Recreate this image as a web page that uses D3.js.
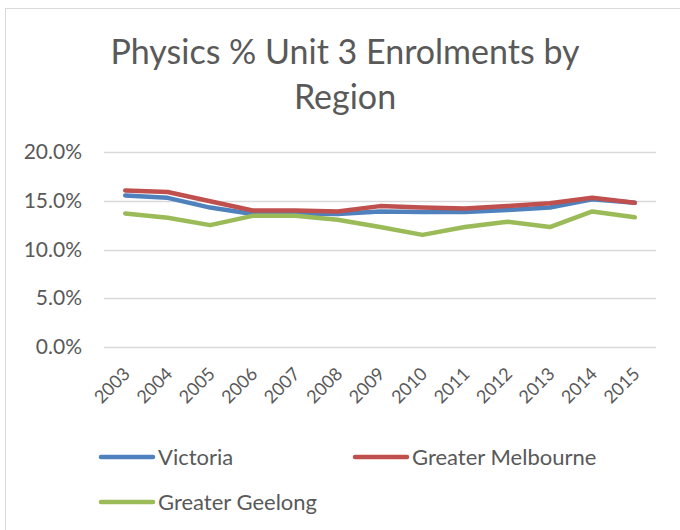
<!DOCTYPE html>
<html>
<head>
<meta charset="utf-8">
<script src="https://cdn.jsdelivr.net/npm/d3@7"></script>
<style>
  body { margin: 0; background: #fff; }
  text { font-family: Lato, "Open Sans", sans-serif; fill: #595959; }
</style>
</head>
<body>
<div id="chart"></div>
<script>
// data
var years = ['2003', '2004', '2005', '2006', '2007', '2008', '2009', '2010', '2011', '2012', '2013', '2014', '2015'];
var victoria = [15.55, 15.3, 14.3, 13.65, 13.7, 13.65, 13.9, 13.85, 13.85, 14.05, 14.3, 15.15, 14.8];
var melbourne = [16.05, 15.9, 14.95, 14.0, 14.0, 13.9, 14.45, 14.3, 14.2, 14.45, 14.75, 15.3, 14.8];
var geelong = [13.7, 13.25, 12.5, 13.45, 13.45, 13.05, 12.3, 11.5, 12.3, 12.85, 12.3, 13.9, 13.3];
var yTicks = [0, 5, 10, 15, 20];
var seriesNames = ['Victoria', 'Greater Melbourne', 'Greater Geelong'];
var seriesColors = ['#4f81bd', '#c0504d', '#9bbb59'];

var svgWidth = 680;
var svgHeight = 530;
var margin = { top: 152, right: 24, bottom: 183, left: 104 };
var chartWidth = svgWidth - margin.left - margin.right;
var chartHeight = svgHeight - margin.top - margin.bottom;

var svg = d3.select('#chart')
    .append('svg')
    .attr('width', svgWidth)
    .attr('height', svgHeight);

// outer chart border (Excel chart area)
svg.append('rect')
    .attr('x', 5.5)
    .attr('y', 8.5)
    .attr('width', 700)
    .attr('height', 560)
    .attr('fill', 'none')
    .attr('stroke', '#d9d9d9')
    .attr('stroke-width', 1);

// title
var title = svg.append('text')
    .attr('text-anchor', 'middle')
    .style('font-size', '34px');
title.append('tspan').attr('x', 345).attr('y', 64).text('Physics % Unit 3 Enrolments by');
title.append('tspan').attr('x', 345).attr('y', 109).text('Region');

var chartGroup = svg.append('g')
    .attr('transform', 'translate(' + margin.left + ',' + margin.top + ')');

var xScale = d3.scaleBand().domain(years).range([0, chartWidth]);
var yScale = d3.scaleLinear().domain([0, 20]).range([chartHeight, 0]);

// gridlines
chartGroup.selectAll('.grid')
    .data(yTicks)
    .enter()
    .append('line')
    .attr('x1', 0)
    .attr('x2', chartWidth)
    .attr('y1', function (d) { return Math.round(yScale(d)) + 0.5; })
    .attr('y2', function (d) { return Math.round(yScale(d)) + 0.5; })
    .attr('stroke', '#d9d9d9')
    .attr('stroke-width', 1.3);

// y axis labels
var leftAxis = d3.axisLeft(yScale)
    .tickValues(yTicks)
    .tickSize(0)
    .tickPadding(22)
    .tickFormat(function (d) { return d.toFixed(1) + '%'; });
var yAxisG = chartGroup.append('g').call(leftAxis);
yAxisG.select('.domain').remove();
yAxisG.selectAll('text')
    .style('font-size', '21px')
    .style('font-family', 'Lato, sans-serif')
    .attr('fill', '#595959');

// x axis labels, rotated
var bottomAxis = d3.axisBottom(xScale).tickSize(0).tickPadding(0);
var xAxisG = chartGroup.append('g')
    .attr('transform', 'translate(0,' + chartHeight + ')')
    .call(bottomAxis);
xAxisG.select('.domain').remove();
xAxisG.selectAll('text')
    .style('font-size', '18px')
    .style('font-family', 'Lato, sans-serif')
    .attr('fill', '#595959')
    .attr('text-anchor', 'end')
    .attr('dy', '0')
    .attr('transform', 'translate(6,28) rotate(-45)');

// lines
var allSeries = [victoria, melbourne, geelong];
var line = d3.line()
    .x(function (d, i) { return xScale(years[i]) + xScale.bandwidth() / 2; })
    .y(function (d) { return yScale(d); });

// draw order: Victoria, Melbourne, Geelong
allSeries.forEach(function (values, k) {
    chartGroup.append('path')
        .datum(values)
        .attr('d', line)
        .attr('fill', 'none')
        .attr('stroke', seriesColors[k])
        .attr('stroke-width', 4.5)
        .attr('stroke-linejoin', 'round')
        .attr('stroke-linecap', 'round');
});

// legend
var legendPos = [[99, 457], [353, 457], [99, 502]];
seriesNames.forEach(function (name, k) {
    var g = svg.append('g')
        .attr('transform', 'translate(' + legendPos[k][0] + ',' + legendPos[k][1] + ')');
    g.append('line')
        .attr('x1', 2).attr('x2', 54)
        .attr('y1', 0).attr('y2', 0)
        .attr('stroke', seriesColors[k])
        .attr('stroke-width', 4.5)
        .attr('stroke-linecap', 'round');
    g.append('text')
        .attr('x', 59)
        .attr('y', 7.5)
        .style('font-size', '22px')
        .text(name);
});
</script>
</body>
</html>
